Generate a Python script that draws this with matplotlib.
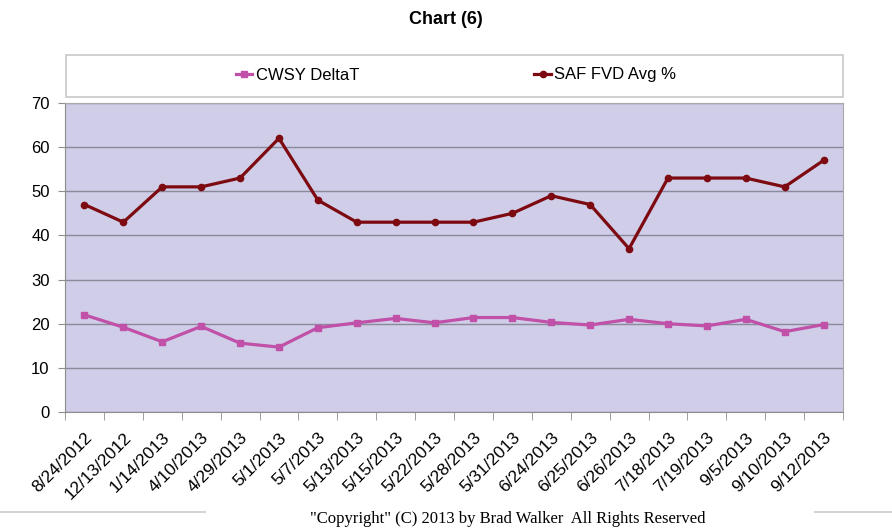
import matplotlib.pyplot as plt
from matplotlib.patches import Rectangle
from matplotlib.lines import Line2D
import numpy as np

dates = ["8/24/2012", "12/13/2012", "1/14/2013", "4/10/2013", "4/29/2013",
         "5/1/2013", "5/7/2013", "5/13/2013", "5/15/2013", "5/22/2013",
         "5/28/2013", "5/31/2013", "6/24/2013", "6/25/2013", "6/26/2013",
         "7/18/2013", "7/19/2013", "9/5/2013", "9/10/2013", "9/12/2013"]
cwsy_deltaT = [22.0, 19.2, 15.9, 19.4, 15.6, 14.7, 19.1, 20.2, 21.2, 20.2,
               21.4, 21.4, 20.3, 19.7, 21.0, 20.0, 19.5, 21.0, 18.2, 19.8]
saf_fvd = [47, 43, 51, 51, 53, 62, 48, 43, 43, 43,
           43, 45, 49, 47, 37, 53, 53, 53, 51, 57]

plt.rcParams['font.family'] = ['Liberation Sans', 'DejaVu Sans']

fig = plt.figure(figsize=(8.92, 5.32), dpi=100)
ax = fig.add_axes([65/892, 1-412/532, 778/892, 309/532])

x = np.arange(len(dates))
ax.set_facecolor('#cfcde8')
ax.plot(x, cwsy_deltaT, color='#c050a8', lw=2.3, marker='s', ms=5, label='CWSY DeltaT')
ax.plot(x, saf_fvd, color='#7d0a10', lw=2.3, marker='o', ms=4.5, label='SAF FVD Avg %')

ax.set_xlim(-0.5, len(dates) - 0.5)
ax.set_ylim(0, 70)
ax.set_yticks(range(0, 71, 10))
ax.yaxis.grid(True, color='#8a8a9a', lw=1.0)
ax.set_axisbelow(True)
ax.tick_params(axis='y', labelsize=12, length=5, direction='out', color='#909090', pad=6)

ax.set_xticks(x)
ax.set_xticklabels(dates, rotation=45, ha='right', rotation_mode='anchor', fontsize=12.5)
ax.tick_params(axis='x', which='major', length=0, pad=13)
ax.set_xticks(np.arange(-0.5, len(dates), 1), minor=True)
ax.tick_params(axis='x', which='minor', length=6, direction='out', color='#909090')

for s in ['left', 'bottom']:
    ax.spines[s].set_color('#8c8c8c')
for s in ['top', 'right']:
    ax.spines[s].set_color('#a8a8a8')

fig.text(0.5, 1-20/532, 'Chart (6)', ha='center', va='center', fontsize=13, fontweight='bold')

# legend box
fig.patches.append(Rectangle((66/892, 1-97/532), 777/892, 42/532, transform=fig.transFigure,
                             facecolor='white', edgecolor='#c8c8c8', lw=1.2))
handles, labels = ax.get_legend_handles_labels()
fig.legend(handles, labels, loc='center', bbox_to_anchor=(456/892, 1-75/532), ncol=2,
           frameon=False, fontsize=12, handlelength=1.0, handletextpad=0.2,
           columnspacing=10.5)

fig.text(508/892, 1-519/532, '"Copyright" (C) 2013 by Brad Walker  All Rights Reserved',
         ha='center', va='center', fontsize=12, family=['Liberation Serif', 'DejaVu Serif'])
fig.add_artist(Line2D([0, 205/892], [1-512/532, 1-512/532], color='#d4d4d4', lw=1.5))
fig.add_artist(Line2D([815/892, 1], [1-512/532, 1-512/532], color='#d4d4d4', lw=1.5))

fig.savefig('out.png', dpi=100)
